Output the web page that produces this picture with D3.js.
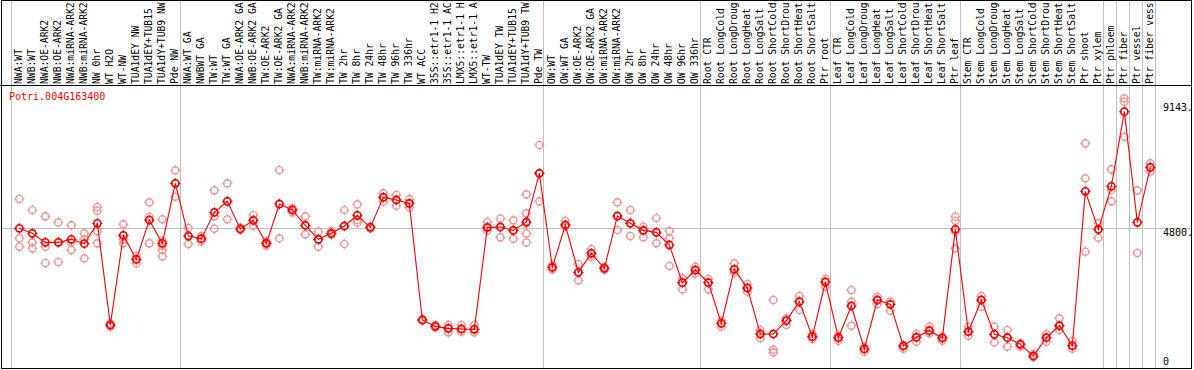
<!DOCTYPE html>
<html><head><meta charset="utf-8">
<script src="https://cdn.jsdelivr.net/npm/d3@7"></script>
<style>body{margin:0;background:#fff}svg{display:block}</style>
</head><body>
<svg id="chart" width="1194" height="370"></svg>
<script>
const labels = [
"NWA:WT","NWB:WT","NWA:OE-ARK2","NWB:OE-ARK2","NWA:miRNA-ARK2","NWB:miRNA-ARK2","NW 0hr","WT H2O","WT-NW","TUA1dEY NW","TUA1dEY+TUB15","TUA1dY+TUB9 NW","Pde NW",
"NWA:WT GA","NWBWT GA","TW:WT","TW:WT GA","NWA:OE-ARK2 GA","NWB:OE-ARK2 GA","TW:OE-ARK2","TW:OE-ARK2 GA","NWA:miRNA-ARK2","NWB:miRNA-ARK2","TW:miRNA-ARK2","TW:miRNA-ARK2","TW 2hr","TW 8hr","TW 24hr","TW 48hr","TW 96hr","TW 336hr","WT ACC","35S::etr1-1 H2","35S::etr1-1 AC","LMX5::etr1-1 H","LMX5::etr1-1 A","WT-TW","TUA1dEY TW","TUA1dEY+TUB15","TUA1dY+TUB9 TW","Pde TW",
"OW:WT","OW:WT GA","OW:OE-ARK2","OW:OE-ARK2 GA","OW:miRNA-ARK2","OW:miRNA-ARK2","OW 2hr","OW 8hr","OW 24hr","OW 48hr","OW 96hr","OW 336hr",
"Root CTR","Root LongCold","Root LongDroug","Root LongHeat","Root LongSalt","Root ShortCold","Root ShortDrou","Root ShortHeat","Root ShortSalt","Ptr root",
"Leaf CTR","Leaf LongCold","Leaf LongDroug","Leaf LongHeat","Leaf LongSalt","Leaf ShortCold","Leaf ShortDrou","Leaf ShortHeat","Leaf ShortSalt","Ptr leaf",
"Stem CTR","Stem LongCold","Stem LongDroug","Stem LongHeat","Stem LongSalt","Stem ShortCold","Stem ShortDrou","Stem ShortHeat","Stem ShortSalt","Ptr shoot","Ptr xylem",
"Ptr phloem","Ptr fiber","Ptr vessel","Ptr fiber vess"
];
const means = [
4799,4613,4277,4277,4389,4228,4985,1199,4538,3644,5109,4240,6475,
4513,4414,5395,5804,4774,5097,4240,5705,5482,4911,4389,4613,4886,5283,4836,5953,5854,5730,1385,1149,1075,1050,1038,4836,4849,4724,5035,6847,
3347,4923,3160,3868,3309,5258,4985,4724,4650,4178,2776,3247,
2776,1261,3272,2577,864,864,1360,2068,765,2800,
727,1907,305,2130,1969,417,740,988,715,4762,
951,2130,852,727,479,45,727,1174,429,6177,4762,
6363,9143,5022,7070
];
const reps = [
[5891,4427,4116],[5482,4277,4054],[5246,4116,3508],[5022,4277,3545],[4911,4277,3992],[4613,4389,3682],[5593,5457,4687,4240],[1261,1199,1137],[4948,4389,4240],[3769,3644,3496],[5767,5233,4240],[5134,4327,4153,3992,3756],[6959,6475,5978],
[4811,4513,4215],[4513,4414,4315],[6214,5246,4786],[6475,5804,5134],[4824,4774,4737],[5295,5097,4898],[4302,4240,4153],[6971,5705,4427],[5544,5482,5395],[5246,4911,4575],[4675,4389,4116],[4700,4613,4551],[5482,4886,4215],[5693,5109,5010],[4861,4836,4799],[6102,5953,5792],[6040,5854,5643],[5879,5730,5581],[1410,1385,1360],[1199,1137,1112],[1199,1075,926],[1199,1050,951],[1199,1038,926],[5035,4836,4712],[5159,4849,4464],[5097,4724,4414],[6065,5357,4985,4613,4277],[7902,6847,5804],
[3433,3347,3272],[5084,4923,4861],[3471,3160,2862],[4029,3868,3744],[3371,3309,3247],[5767,5258,4737],[5482,4985,4513],[4861,4724,4464],[5184,4650,4240],[4700,4427,3396],[2937,2776,2527],[3371,3247,3123],
[2912,2776,2527],[1360,1261,1137],[3496,3272,3148],[2726,2577,2440],[1013,864,703],[2130,281,181],[1447,1360,1199],[2279,2068,1758],[864,765,678],[2912,2800,2627],
[789,727,616],[2503,2068,1174],[392,305,206],[2254,2130,1981],[2068,1969,1733],[454,417,318],[864,740,578],[1137,988,889],[765,715,616],[5233,5084,4675,4054],
[1137,951,802],[2279,2130,1882],[1137,852,554],[1013,727,392],[516,479,392],[119,45,0],[864,727,578],[1447,1174,1013],[603,429,318],[7964,6661,3930],[4985,4762,4451],
[6996,6226,5804],[9640,9516,8212],[6214,5022,3880],[7219,7070,6909]
];
const groupBreaks = [0,13,41,53,63,73,84,85,86,87,88];
const yTicks = [0, 4800, 9143];
const gridValue = 4800;
const geneName = "Potri.004G163400";

const W = 1194, H = 370;
const FONT = "'DejaVu Sans Mono', monospace";
const svg = d3.select("#chart");
const n = labels.length;
const x = d3.scaleLinear().domain([0, n]).range([10.5, 1154.5]);
const cx = i => x(i + 0.68);
const y = d3.scaleLinear().domain([0, 9143]).range([357.2, 111.7]);
const plotTop = 85.5, plotBottom = 368.5, plotLeft = 1.5, plotRight = 1191.5;

// gray grid
svg.append("g").selectAll("line").data(groupBreaks).join("line")
  .attr("x1", d => Math.round(x(d)) + 0.5).attr("x2", d => Math.round(x(d)) + 0.5)
  .attr("y1", 0).attr("y2", plotBottom)
  .attr("stroke", "#c0c0c0").attr("stroke-width", 1);
svg.append("line")
  .attr("x1", plotLeft).attr("x2", plotRight)
  .attr("y1", Math.round(y(gridValue)) + 0.5).attr("y2", Math.round(y(gridValue)) + 0.5)
  .attr("stroke", "#c0c0c0");

// labels
svg.append("g")
  .selectAll("text").data(labels).join("text")
  .attr("transform", (d, i) => `translate(${cx(i) + 3},${plotTop - 1.5}) rotate(-90)`)
  .attr("font-family", FONT).attr("font-size", 9.7).attr("fill", "#000")
  .text(d => d);

// frame
svg.append("rect").attr("x", plotLeft).attr("y", 0.5).attr("width", plotRight - plotLeft).attr("height", plotBottom - 0.5)
  .attr("fill", "none").attr("stroke", "#000");
svg.append("line").attr("x1", 0).attr("x2", plotRight).attr("y1", plotTop).attr("y2", plotTop).attr("stroke", "#000");

// gene name
svg.append("text").attr("x", 9).attr("y", 100)
  .attr("font-family", FONT).attr("font-size", 10).attr("fill", "#ff0000")
  .text(geneName);

// y tick labels (right)
svg.append("g").selectAll("text").data(yTicks).join("text")
  .attr("x", 1163)
  .attr("y", d => d === d3.max(yTicks) ? y(d) - 0.5 : y(d) + 8)
  .attr("font-family", FONT).attr("font-size", 10).attr("fill", "#000")
  .text(d => d === 0 ? "0" : d + ".");

const r = 3.6;
function marker(g, color, sw) {
  g.append("circle").attr("r", r).attr("fill", "none").attr("stroke", color).attr("stroke-width", sw);
  [[0,-1],[0,1],[-1,0],[1,0]].forEach(([dx, dy]) => {
    g.append("line")
      .attr("x1", dx * (r - 1)).attr("y1", dy * (r - 1))
      .attr("x2", dx * (r + 1.6)).attr("y2", dy * (r + 1.6))
      .attr("stroke", color).attr("stroke-width", 1);
  });
}

// replicates
const repData = [];
reps.forEach((arr, i) => arr.forEach(v => repData.push({i, v})));
svg.append("g").selectAll("g").data(repData).join("g")
  .attr("transform", d => `translate(${cx(d.i)},${y(d.v)})`)
  .each(function() { marker(d3.select(this), "#f09898", 1.4); });

// line
svg.append("path").datum(means)
  .attr("d", d3.line().x((d, i) => cx(i)).y(d => y(d)))
  .attr("fill", "none").attr("stroke", "#ff0000").attr("stroke-width", 1.1);

// means
svg.append("g").selectAll("g").data(means).join("g")
  .attr("transform", (d, i) => `translate(${cx(i)},${y(d)})`)
  .each(function() { marker(d3.select(this), "#ff0000", 1.6); });
</script>
</body></html>
